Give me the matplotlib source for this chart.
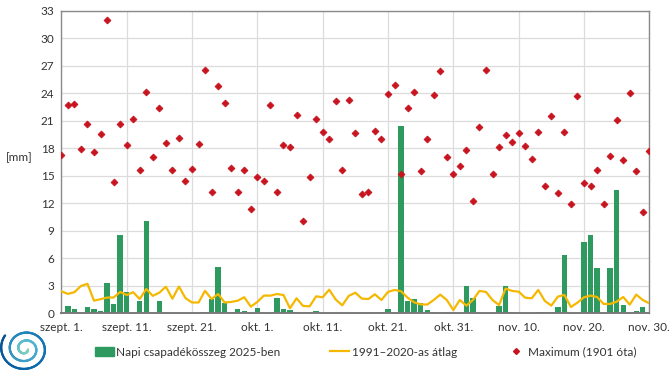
import numpy as np
import matplotlib
matplotlib.use("Agg")
import matplotlib.pyplot as plt
from matplotlib.lines import Line2D
from matplotlib.patches import Patch

plt.rcParams['font.family'] = ['Lato', 'DejaVu Sans']

# ---- data (Sept 1 .. Nov 30, 91 days) ----
tick_labels = ["szept. 1.", "szept. 11.", "szept. 21.", "okt. 1.", "okt. 11.",
               "okt. 21.", "okt. 31.", "nov. 10.", "nov. 20.", "nov. 30."]

precip_2025 = [0, 0.84, 0.47, 0, 0.65, 0.47, 0.25, 3.3, 0.98, 8.55,
               2.3, 0, 1.35, 10.1, 0, 1.35, 0, 0, 0, 0,
               0, 0, 0.12, 1.58, 5.1, 1.1, 0.15, 0.45, 0.24, 0.07,
               0.62, 0, 0, 1.68, 0.52, 0.33, 0.17, 0.08, 0.12, 0.25,
               0.08, 0, 0.07, 0.07, 0.08, 0, 0, 0.15, 0, 0.1,
               0.45, 0, 20.47, 1.35, 1.53, 1.1, 0.33, 0.1, 0, 0.15,
               0, 0, 2.98, 1.68, 0, 0, 0, 0.8, 3.0, 0.15,
               0, 0.07, 0.07, 0.15, 0.1, 0.15, 0.7, 6.36, 0.07, 0.07,
               7.78, 8.55, 4.98, 0.07, 4.98, 13.4, 0.95, 0, 0.22, 0.7,
               0]

avg_1991_2020 = [2.4, 2.12, 2.3, 2.98, 3.22, 1.38, 1.54, 1.72, 1.72, 2.33,
                 2.0, 2.3, 1.56, 2.65, 1.9, 2.25, 2.9, 1.6, 2.92, 1.66,
                 1.18, 1.18, 2.45, 1.56, 2.1, 1.18, 1.24, 1.38, 1.75, 0.73,
                 1.24, 1.93, 1.93, 2.1, 2.0, 0.55, 1.64, 0.8, 0.76, 1.85,
                 1.75, 2.58, 1.5, 0.87, 1.9, 2.25, 1.6, 1.56, 2.07, 1.45,
                 2.33, 2.55, 2.4, 1.7, 1.2, 0.98, 0.95, 1.45, 2.04, 1.45,
                 0.36, 1.45, 0.84, 1.45, 2.44, 2.33, 1.45, 0.9, 2.7, 2.44,
                 2.36, 1.7, 1.64, 2.55, 1.35, 0.84, 1.82, 2.0, 0.69, 1.16,
                 1.75, 1.93, 1.78, 1.02, 1.02, 1.27, 1.78, 0.95, 2.04, 1.45,
                 1.09]

max_since_1901 = [17.27, 22.7, 22.87, 17.96, 20.6, 17.56, 19.5, 32.0, 14.3, 20.6,
                  18.36, 21.2, 15.6, 24.1, 17.05, 22.4, 18.6, 15.6, 19.1, 14.4,
                  15.7, 18.5, 26.5, 13.27, 24.8, 22.95, 15.85, 13.2, 15.6, 11.4,
                  14.87, 14.47, 22.7, 13.27, 18.36, 18.1, 21.6, 10.07, 14.87, 21.2,
                  19.75, 19.05, 23.2, 15.6, 23.3, 19.67, 12.98, 13.27, 19.93, 19.05,
                  23.9, 24.9, 15.24, 22.4, 24.1, 15.5, 18.98, 23.8, 26.4, 17.05,
                  15.16, 16.04, 17.8, 12.2, 20.3, 26.5, 15.16, 18.1, 19.4, 18.65,
                  19.67, 18.25, 16.8, 19.8, 13.93, 21.5, 13.13, 19.75, 11.96, 23.7,
                  14.2, 13.9, 15.6, 11.96, 17.1, 21.1, 16.7, 24.0, 15.5, 11.1,
                  17.75]

days = np.arange(len(precip_2025))

GREEN = "#2e9a60"
YELLOW = "#f5b800"
RED = "#c8141e"

fig = plt.figure(figsize=(6.71, 3.71), dpi=100)
ax = fig.add_axes([0.0914, 0.1555, 0.8763, 0.8157])

ax.bar(days, precip_2025, width=0.82, color=GREEN, zorder=2)
ax.plot(days, avg_1991_2020, color=YELLOW, lw=1.6, zorder=3)
ax.plot(days, max_since_1901, linestyle='none', marker='D', markersize=3.5,
        markeredgewidth=0.6, color=RED, markeredgecolor=RED, zorder=4)

ax.set_xlim(0, 90)
ax.set_ylim(0, 33)
ax.set_yticks(np.arange(0, 34, 3))
ax.set_xticks(np.arange(0, 91, 10))
ax.set_xticklabels(tick_labels)
ax.tick_params(axis='both', length=0, labelsize=8.5, colors="#333333")
ax.tick_params(axis='x', pad=6)
ax.tick_params(axis='y', pad=5)
ax.grid(True, color="#dcdcdc", lw=0.9, zorder=0)
ax.set_axisbelow(True)
for s in ax.spines.values():
    s.set_color("#8a8a8a")
    s.set_linewidth(1.0)
ax.spines['bottom'].set_color("#7a7a7a")
ax.spines['bottom'].set_linewidth(1.4)

fig.text(19 / 671, 1 - 158 / 371, "[mm]", ha='center', va='center',
         fontsize=8.5, color="#333333")

handles = [Patch(color=GREEN), Line2D([], [], color=YELLOW, lw=1.6),
           Line2D([], [], ls='none', marker='D', markersize=3.0, color=RED)]
labels = ["Napi csapadékösszeg 2025-ben", "1991–2020-as átlag", "Maximum (1901 óta)"]
fig.legend(handles, labels, loc='center', bbox_to_anchor=(0.545, 1 - 352 / 371),
           ncol=3, frameon=False, fontsize=8.5, handlelength=1.6,
           handletextpad=0.2, columnspacing=4.2, labelcolor="#333333")

# simple teal spiral logo, bottom-left
lax = fig.add_axes([0.0, 0.0, 0.075, 0.125])
lax.set_xlim(-1.2, 1.2)
lax.set_ylim(-1.4, 1.0)
lax.axis('off')
t = np.linspace(0.3, 5.2 * np.pi, 400)
r = 0.12 + 0.065 * t
cm = plt.get_cmap('GnBu')
for i in range(len(t) - 1):
    lax.plot(r[i:i+2] * np.cos(-t[i:i+2]), r[i:i+2] * np.sin(-t[i:i+2]) - 0.25,
             color=cm(0.45 + 0.5 * i / len(t)), lw=1.6, solid_capstyle='round')

fig.savefig("out.png", dpi=100)
